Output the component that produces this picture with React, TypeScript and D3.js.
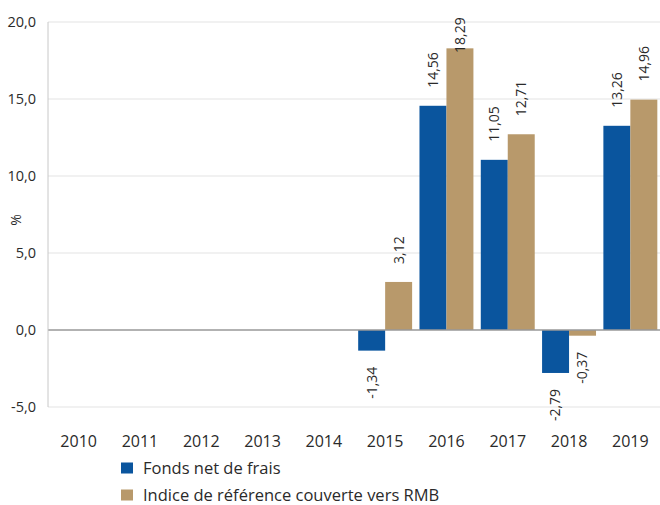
import React from "react";
import * as d3 from "d3";

const years = ["2010", "2011", "2012", "2013", "2014", "2015", "2016", "2017", "2018", "2019"];
const fonds: (number | null)[] = [null, null, null, null, null, -1.34, 14.56, 11.05, -2.79, 13.26];
const indice: (number | null)[] = [null, null, null, null, null, 3.12, 18.29, 12.71, -0.37, 14.96];
const yTicks = [-5, 0, 5, 10, 15, 20];
const seriesNames = ["Fonds net de frais", "Indice de référence couverte vers RMB"];
const colors = ["#0A559E", "#B8996B"];

const W = 660, H = 505;
const left = 48, right = 661, top = 22, bottom = 407;
const FONT = "'Open Sans', 'DejaVu Sans', sans-serif";

export default function App() {
  const x = d3.scaleBand<string>().domain(years).range([left, right]).paddingInner(0.12).paddingOuter(0.06);
  const x1 = d3.scaleBand<number>().domain([0, 1]).range([0, x.bandwidth()]);
  const y = d3.scaleLinear().domain([-5, 20]).range([bottom, top]);
  const fmt = (v: number) => v.toFixed(2).replace(".", ",");
  const series = [fonds, indice];
  const labelLen = 36;

  return (
    <svg width={W} height={H} style={{ position: "absolute", left: 0, top: 0 }} fontFamily={FONT}>
      {yTicks.map((t) => (
        <g key={t}>
          {t !== 0 && t !== -5 && (
            <line x1={left} x2={right} y1={y(t)} y2={y(t)} stroke="#e3e3e3" strokeWidth={1} />
          )}
          <text x={36} y={y(t)} dy="0.35em" textAnchor="end" fontSize={14.5} fill="#2a2a2a">
            {t.toFixed(1).replace(".", ",")}
          </text>
        </g>
      ))}
      <line x1={left} x2={right} y1={y(-5)} y2={y(-5)} stroke="#e3e3e3" strokeWidth={1} />
      <text transform={`translate(16,${220}) rotate(-90)`} textAnchor="middle" dy="0.35em" fontSize={14} fill="#2a2a2a">%</text>
      {series.map((s, si) =>
        s.map((v, i) => {
          if (v === null) return null;
          const bx = (x(years[i]) as number) + (x1(si) as number);
          const bw = x1.bandwidth();
          const y0 = y(Math.max(0, v));
          const y1 = y(Math.min(0, v));
          const cx = bx + bw / 2;
          let anchorY: number, anchor: string;
          if (v >= 0) {
            anchorY = Math.max(y0 - 18, top - 5 + labelLen);
            anchor = "start";
          } else {
            anchorY = y1 + 16;
            anchor = "end";
          }
          return (
            <g key={`${si}-${i}`}>
              <rect x={bx} y={y0} width={bw} height={Math.max(1, y1 - y0)} fill={colors[si]} />
              <text
                transform={`translate(${cx},${anchorY}) rotate(-90)`}
                textAnchor={anchor}
                dy="0.35em"
                fontSize={14}
                fill="#2a2a2a"
              >
                {fmt(v)}
              </text>
            </g>
          );
        })
      )}
      <line x1={left} x2={right} y1={y(0)} y2={y(0)} stroke="#999" strokeWidth={1.5} />
      <line x1={left} x2={left} y1={top} y2={bottom} stroke="#c8c8c8" strokeWidth={1} />
      {years.map((yr) => (
        <text key={yr} x={(x(yr) as number) + x.bandwidth() / 2} y={441} dy="0.35em" textAnchor="middle" fontSize={16} fill="#2a2a2a">
          {yr}
        </text>
      ))}
      {seriesNames.map((n, i) => (
        <g key={n} transform={`translate(121,${468 + i * 27})`}>
          <rect x={0} y={-5.5} width={12} height={11} fill={colors[i]} />
          <text x={22} y={0} dy="0.35em" fontSize={16.5} fill="#2a2a2a">{n}</text>
        </g>
      ))}
    </svg>
  );
}
